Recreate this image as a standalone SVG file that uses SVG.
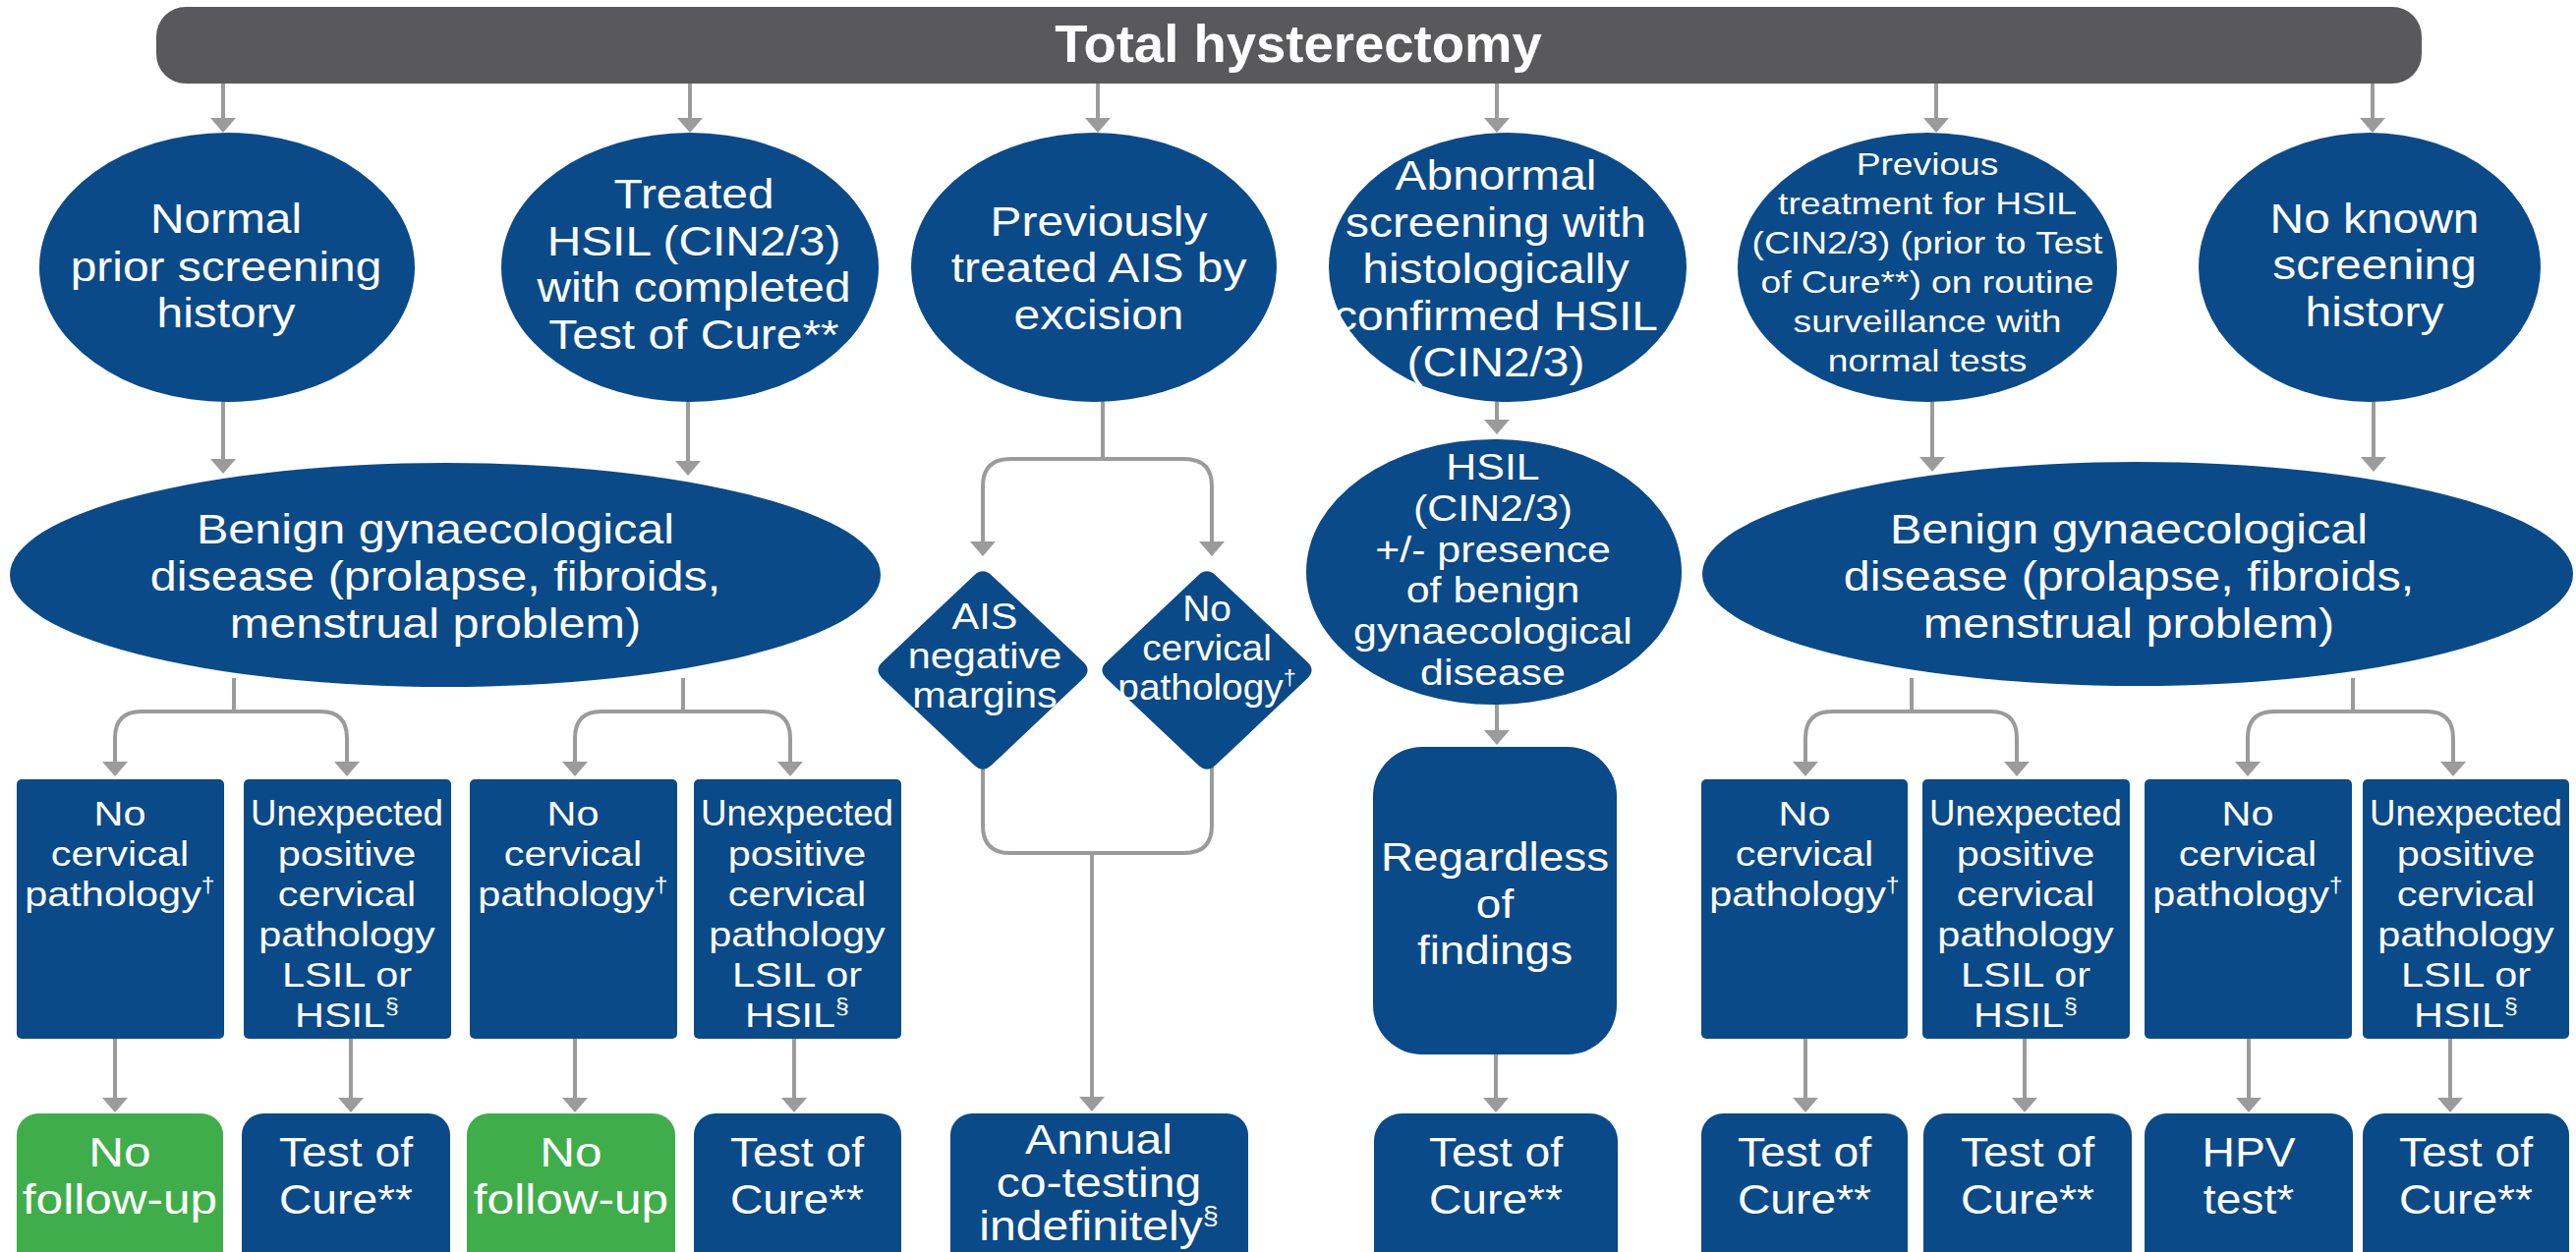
<svg xmlns="http://www.w3.org/2000/svg" width="2621" height="1274" viewBox="0 0 2621 1274">
<defs>
<style>
.t{font-family:"Liberation Sans",Arial,Helvetica,sans-serif;fill:#fff;text-anchor:middle}
.b{fill:#0b4a88}
.g{fill:#3fae4a}
.c{fill:none;stroke:#9b9b9b;stroke-width:4}
.sup{font-size:60%}
</style>
<marker id="ah" markerUnits="userSpaceOnUse" markerWidth="15" markerHeight="26" viewBox="0 0 15 26" refX="1" refY="13" orient="auto"><path d="M0,0 L15,13 L0,26 Z" fill="#9b9b9b"/></marker>
</defs>
<rect width="2621" height="1274" fill="#fff"/>

<g id="connectors">
<path class="c" marker-end="url(#ah)" d="M227,85 V121"/>
<path class="c" marker-end="url(#ah)" d="M702,85 V121"/>
<path class="c" marker-end="url(#ah)" d="M1117,85 V121"/>
<path class="c" marker-end="url(#ah)" d="M1523,85 V121"/>
<path class="c" marker-end="url(#ah)" d="M1970,85 V121"/>
<path class="c" marker-end="url(#ah)" d="M2414,85 V121"/>
<path class="c" marker-end="url(#ah)" d="M227,405 V468"/>
<path class="c" marker-end="url(#ah)" d="M700,405 V470"/>
<path class="c" marker-end="url(#ah)" d="M1523,405 V428"/>
<path class="c" marker-end="url(#ah)" d="M1966,405 V466"/>
<path class="c" marker-end="url(#ah)" d="M2415,405 V466"/>
<path class="c" marker-end="url(#ah)" d="M1523,712 V744"/>
<path class="c" marker-end="url(#ah)" d="M1522,1070 V1118"/>
<path class="c" marker-end="url(#ah)" d="M1122,405 V467 H1028 Q1000,467 1000,495 V552"/>
<path class="c" marker-end="url(#ah)" d="M1122,467 H1205 Q1233,467 1233,495 V552"/>
<path class="c" d="M1000,780 V840 Q1000,868 1028,868 H1205 Q1233,868 1233,840 V780"/>
<path class="c" marker-end="url(#ah)" d="M1111,868 V1117"/>
<path class="c" marker-end="url(#ah)" d="M238,690 V724 H144 Q117,724 117,751 V776"/>
<path class="c" marker-end="url(#ah)" d="M238,724 H326 Q353,724 353,751 V776"/>
<path class="c" marker-end="url(#ah)" d="M695,690 V724 H612 Q585,724 585,751 V776"/>
<path class="c" marker-end="url(#ah)" d="M695,724 H777 Q804,724 804,751 V776"/>
<path class="c" marker-end="url(#ah)" d="M1945,690 V724 H1864 Q1837,724 1837,751 V776"/>
<path class="c" marker-end="url(#ah)" d="M1945,724 H2025 Q2052,724 2052,751 V776"/>
<path class="c" marker-end="url(#ah)" d="M2394,690 V724 H2314 Q2287,724 2287,751 V776"/>
<path class="c" marker-end="url(#ah)" d="M2394,724 H2469 Q2496,724 2496,751 V776"/>
<path class="c" marker-end="url(#ah)" d="M117,1055 V1118"/>
<path class="c" marker-end="url(#ah)" d="M357,1055 V1118"/>
<path class="c" marker-end="url(#ah)" d="M585,1055 V1118"/>
<path class="c" marker-end="url(#ah)" d="M808,1055 V1118"/>
<path class="c" marker-end="url(#ah)" d="M1837,1055 V1118"/>
<path class="c" marker-end="url(#ah)" d="M2060,1055 V1118"/>
<path class="c" marker-end="url(#ah)" d="M2288,1055 V1118"/>
<path class="c" marker-end="url(#ah)" d="M2493,1055 V1118"/>
</g>

<g id="title">
<rect x="159" y="7" width="2305" height="78" rx="30" fill="#59595b"/>
<text class="t" x="1321" y="63" font-size="54.5" font-weight="bold">Total hysterectomy</text>
</g>

<g id="e1">
<ellipse class="b" cx="231" cy="272" rx="191" ry="137"/>
<text class="t" font-size="42" transform="translate(230 0) scale(1.14 1)"><tspan x="0" y="237">Normal</tspan><tspan x="0" y="286">prior screening</tspan><tspan x="0" y="333">history</tspan></text>
</g>
<g id="e2">
<ellipse class="b" cx="702" cy="272" rx="192" ry="137"/>
<text class="t" font-size="42" transform="translate(706 0) scale(1.14 1)"><tspan x="0" y="212">Treated</tspan><tspan x="0" y="260">HSIL (CIN2/3)</tspan><tspan x="0" y="307">with completed</tspan><tspan x="0" y="355">Test of Cure**</tspan></text>
</g>
<g id="e3">
<ellipse class="b" cx="1113" cy="272" rx="186" ry="137"/>
<text class="t" font-size="42" transform="translate(1118 0) scale(1.14 1)"><tspan x="0" y="240">Previously</tspan><tspan x="0" y="287">treated AIS by</tspan><tspan x="0" y="335">excision</tspan></text>
</g>
<g id="e4">
<ellipse class="b" cx="1534" cy="272" rx="182" ry="137"/>
<text class="t" font-size="42" transform="translate(1522 0) scale(1.14 1)"><tspan x="0" y="193">Abnormal</tspan><tspan x="0" y="241">screening with</tspan><tspan x="0" y="288">histologically</tspan><tspan x="0" y="336">confirmed HSIL</tspan><tspan x="0" y="383">(CIN2/3)</tspan></text>
</g>
<g id="e5">
<ellipse class="b" cx="1961" cy="272" rx="193" ry="137"/>
<text class="t" font-size="31" transform="translate(1961 0) scale(1.2 1)"><tspan x="0" y="178">Previous</tspan><tspan x="0" y="218">treatment for HSIL</tspan><tspan x="0" y="258">(CIN2/3) (prior to Test</tspan><tspan x="0" y="298">of Cure**) on routine</tspan><tspan x="0" y="338">surveillance with</tspan><tspan x="0" y="378">normal tests</tspan></text>
</g>
<g id="e6">
<ellipse class="b" cx="2411" cy="272" rx="174" ry="137"/>
<text class="t" font-size="42" transform="translate(2416 0) scale(1.14 1)"><tspan x="0" y="237">No known</tspan><tspan x="0" y="284">screening</tspan><tspan x="0" y="332">history</tspan></text>
</g>

<g id="benignL">
<ellipse class="b" cx="453" cy="585" rx="443" ry="114"/>
<text class="t" font-size="43" transform="translate(443 0) scale(1.13 1)"><tspan x="0" y="553">Benign gynaecological</tspan><tspan x="0" y="601">disease (prolapse, fibroids,</tspan><tspan x="0" y="649">menstrual problem)</tspan></text>
</g>
<g id="benignR">
<ellipse class="b" cx="2175" cy="584" rx="443" ry="114"/>
<text class="t" font-size="43" transform="translate(2166 0) scale(1.13 1)"><tspan x="0" y="553">Benign gynaecological</tspan><tspan x="0" y="601">disease (prolapse, fibroids,</tspan><tspan x="0" y="649">menstrual problem)</tspan></text>
</g>
<g id="hsil">
<ellipse class="b" cx="1520" cy="582" rx="191" ry="135"/>
<text class="t" font-size="37" transform="translate(1519 0) scale(1.16 1)"><tspan x="0" y="488">HSIL</tspan><tspan x="0" y="530">(CIN2/3)</tspan><tspan x="0" y="572">+/- presence</tspan><tspan x="0" y="613">of benign</tspan><tspan x="0" y="655">gynaecological</tspan><tspan x="0" y="697">disease</tspan></text>
</g>

<g id="ais">
<path class="b" d="M1008.9,585.4 L1102.1,673.6 Q1111,682 1102.1,690.4 L1008.9,778.6 Q1000,787 991.1,778.6 L897.9,690.4 Q889,682 897.9,673.6 L991.1,585.4 Q1000,577 1008.9,585.4 Z"/>
<text class="t" font-size="37" transform="translate(1002 0) scale(1.12 1)"><tspan x="0" y="640">AIS</tspan><tspan x="0" y="680">negative</tspan><tspan x="0" y="720">margins</tspan></text>
</g>
<g id="aisNo">
<path class="b" d="M1236.9,585.4 L1330.1,673.6 Q1339,682 1330.1,690.4 L1236.9,778.6 Q1228,787 1219.1,778.6 L1125.9,690.4 Q1117,682 1125.9,673.6 L1219.1,585.4 Q1228,577 1236.9,585.4 Z"/>
<text class="t" font-size="37" transform="translate(1228 0) scale(1.05 1)"><tspan x="0" y="632">No</tspan><tspan x="0" y="672">cervical</tspan><tspan x="0" y="712">pathology<tspan class="sup" dy="-15">†</tspan></tspan></text>
</g>

<g id="m1">
<rect class="b" x="17" y="793" width="211" height="264" rx="5"/>
<text class="t" font-size="36" transform="translate(122 0) scale(1.15 1)"><tspan x="0" y="840">No</tspan><tspan x="0" y="881">cervical</tspan><tspan x="0" y="922">pathology<tspan class="sup" dy="-14">†</tspan></tspan></text>
</g>
<g id="m2">
<rect class="b" x="248" y="793" width="211" height="264" rx="5"/>
<text class="t" font-size="36" transform="translate(353 0) scale(1.02 1)" x="0" y="840">Unexpected</text>
<text class="t" font-size="36" transform="translate(353 0) scale(1.15 1)"><tspan x="0" y="881">positive</tspan><tspan x="0" y="922">cervical</tspan><tspan x="0" y="963">pathology</tspan><tspan x="0" y="1004">LSIL or</tspan><tspan x="0" y="1045">HSIL<tspan class="sup" dy="-14">§</tspan></tspan></text>
</g>
<g id="m3">
<rect class="b" x="478" y="793" width="211" height="264" rx="5"/>
<text class="t" font-size="36" transform="translate(583 0) scale(1.15 1)"><tspan x="0" y="840">No</tspan><tspan x="0" y="881">cervical</tspan><tspan x="0" y="922">pathology<tspan class="sup" dy="-14">†</tspan></tspan></text>
</g>
<g id="m4">
<rect class="b" x="706" y="793" width="211" height="264" rx="5"/>
<text class="t" font-size="36" transform="translate(811 0) scale(1.02 1)" x="0" y="840">Unexpected</text>
<text class="t" font-size="36" transform="translate(811 0) scale(1.15 1)"><tspan x="0" y="881">positive</tspan><tspan x="0" y="922">cervical</tspan><tspan x="0" y="963">pathology</tspan><tspan x="0" y="1004">LSIL or</tspan><tspan x="0" y="1045">HSIL<tspan class="sup" dy="-14">§</tspan></tspan></text>
</g>
<g id="m5">
<rect class="b" x="1731" y="793" width="210" height="264" rx="5"/>
<text class="t" font-size="36" transform="translate(1836 0) scale(1.15 1)"><tspan x="0" y="840">No</tspan><tspan x="0" y="881">cervical</tspan><tspan x="0" y="922">pathology<tspan class="sup" dy="-14">†</tspan></tspan></text>
</g>
<g id="m6">
<rect class="b" x="1956" y="793" width="211" height="264" rx="5"/>
<text class="t" font-size="36" transform="translate(2061 0) scale(1.02 1)" x="0" y="840">Unexpected</text>
<text class="t" font-size="36" transform="translate(2061 0) scale(1.15 1)"><tspan x="0" y="881">positive</tspan><tspan x="0" y="922">cervical</tspan><tspan x="0" y="963">pathology</tspan><tspan x="0" y="1004">LSIL or</tspan><tspan x="0" y="1045">HSIL<tspan class="sup" dy="-14">§</tspan></tspan></text>
</g>
<g id="m7">
<rect class="b" x="2182" y="793" width="211" height="264" rx="5"/>
<text class="t" font-size="36" transform="translate(2287 0) scale(1.15 1)"><tspan x="0" y="840">No</tspan><tspan x="0" y="881">cervical</tspan><tspan x="0" y="922">pathology<tspan class="sup" dy="-14">†</tspan></tspan></text>
</g>
<g id="m8">
<rect class="b" x="2404" y="793" width="210" height="264" rx="5"/>
<text class="t" font-size="36" transform="translate(2509 0) scale(1.02 1)" x="0" y="840">Unexpected</text>
<text class="t" font-size="36" transform="translate(2509 0) scale(1.15 1)"><tspan x="0" y="881">positive</tspan><tspan x="0" y="922">cervical</tspan><tspan x="0" y="963">pathology</tspan><tspan x="0" y="1004">LSIL or</tspan><tspan x="0" y="1045">HSIL<tspan class="sup" dy="-14">§</tspan></tspan></text>
</g>
<g id="regardless">
<rect class="b" x="1397" y="760" width="248" height="313" rx="50"/>
<text class="t" font-size="41" transform="translate(1521 0) scale(1.12 1)"><tspan x="0" y="886">Regardless</tspan><tspan x="0" y="934">of</tspan><tspan x="0" y="981">findings</tspan></text>
</g>

<g id="b1">
<rect class="g" x="17" y="1133" width="210" height="170" rx="22"/>
<text class="t" font-size="42" transform="translate(122 0) scale(1.18 1)"><tspan x="0" y="1187">No</tspan><tspan x="0" y="1235">follow-up</tspan></text>
</g>
<g id="b2">
<rect class="b" x="246" y="1133" width="212" height="170" rx="22"/>
<text class="t" font-size="42" transform="translate(352 0) scale(1.1 1)"><tspan x="0" y="1187">Test of</tspan><tspan x="0" y="1235">Cure**</tspan></text>
</g>
<g id="b3">
<rect class="g" x="475" y="1133" width="212" height="170" rx="22"/>
<text class="t" font-size="42" transform="translate(581 0) scale(1.18 1)"><tspan x="0" y="1187">No</tspan><tspan x="0" y="1235">follow-up</tspan></text>
</g>
<g id="b4">
<rect class="b" x="706" y="1133" width="211" height="170" rx="22"/>
<text class="t" font-size="42" transform="translate(811 0) scale(1.1 1)"><tspan x="0" y="1187">Test of</tspan><tspan x="0" y="1235">Cure**</tspan></text>
</g>
<g id="b5">
<rect class="b" x="967" y="1133" width="303" height="170" rx="22"/>
<text class="t" font-size="43" transform="translate(1118 0) scale(1.12 1)"><tspan x="0" y="1174">Annual</tspan><tspan x="0" y="1218">co-testing</tspan><tspan x="0" y="1262">indefinitely<tspan class="sup" dy="-16">§</tspan></tspan></text>
</g>
<g id="b6">
<rect class="b" x="1398" y="1133" width="248" height="170" rx="28"/>
<text class="t" font-size="42" transform="translate(1522 0) scale(1.1 1)"><tspan x="0" y="1187">Test of</tspan><tspan x="0" y="1235">Cure**</tspan></text>
</g>
<g id="b7">
<rect class="b" x="1731" y="1133" width="210" height="170" rx="22"/>
<text class="t" font-size="42" transform="translate(1836 0) scale(1.1 1)"><tspan x="0" y="1187">Test of</tspan><tspan x="0" y="1235">Cure**</tspan></text>
</g>
<g id="b8">
<rect class="b" x="1957" y="1133" width="212" height="170" rx="22"/>
<text class="t" font-size="42" transform="translate(2063 0) scale(1.1 1)"><tspan x="0" y="1187">Test of</tspan><tspan x="0" y="1235">Cure**</tspan></text>
</g>
<g id="b9">
<rect class="b" x="2182" y="1133" width="212" height="170" rx="22"/>
<text class="t" font-size="42" transform="translate(2288 0) scale(1.1 1)"><tspan x="0" y="1187">HPV</tspan><tspan x="0" y="1235">test*</tspan></text>
</g>
<g id="b10">
<rect class="b" x="2404" y="1133" width="210" height="170" rx="22"/>
<text class="t" font-size="42" transform="translate(2509 0) scale(1.1 1)"><tspan x="0" y="1187">Test of</tspan><tspan x="0" y="1235">Cure**</tspan></text>
</g>
</svg>
